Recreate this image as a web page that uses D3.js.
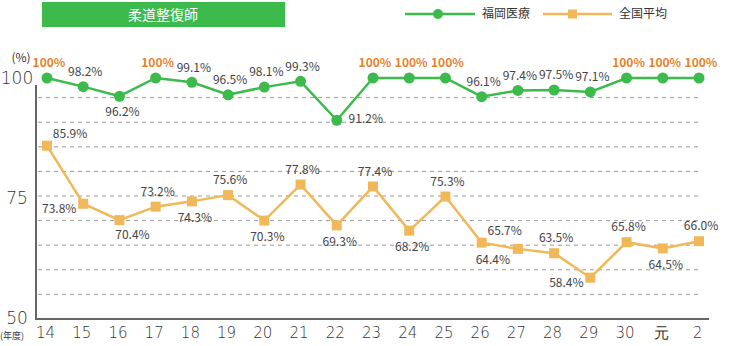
<!DOCTYPE html>
<html lang="ja">
  <head>
    <meta charset="utf-8">
    <title>柔道整復師</title>
    <style>
      body { margin: 0; background: #fff; }
      svg { display: block; font-family: "Noto Sans CJK JP", "Noto Sans", sans-serif; }
    </style>
    <script src="https://d3js.org/d3.v7.min.js"></script>
  </head>
  <body>
    <div class="chart"></div>
    <script>

    // data
    const years = ["14","15","16","17","18","19","20","21","22","23","24","25","26","27","28","29","30","元","2"];
    const fukuoka = [100,98.2,96.2,100,99.1,96.5,98.1,99.3,91.2,100,100,100,96.1,97.4,97.5,97.1,100,100,100];
    const national = [85.9,73.8,70.4,73.2,74.3,75.6,70.3,77.8,69.3,77.4,68.2,75.3,65.7,64.4,63.5,58.4,65.8,64.5,66.0];
    const yTicks = [50,75,100];
    const seriesNames = ["福岡医療","全国平均"];

    // where each value label sits relative to its marker
    const fukuokaLabelPos = ["t","t","b","t","t","t","t","t","r","t","t","t","t","t","t","t","t","t","t"];
    const nationalLabelPos = ["tr","l","br","t","b","t","b","t","b","t","b","t","tr","bl","t","l","t","b","t"];
    const offsets = {
      t: [2,-15], b: [3,16], tr: [23,-12], r: [29,-1],
      l: [-24,5], bl: [-25,11], br: [13,15]
    };

    const width = 730, height = 346;
    const green = "#3cba4c", orange = "#f0b859", hot = "#e8812a";

    const svg = d3.select(".chart")
      .append("svg")
      .attr("width", width)
      .attr("height", height);

    const x = d3.scalePoint()
      .domain(years)
      .range([47, 699]);

    const y = d3.scaleLinear()
      .domain([50,100])
      .range([318, 78]);

    // dashed grid sits on its own even spacing
    const gy = d3.scaleLinear()
      .domain([50,100])
      .range([319, 73]);

    // title box
    svg.append("rect")
      .attr("x",42).attr("y",2)
      .attr("width",243).attr("height",25)
      .attr("fill",green);
    svg.append("text")
      .attr("x",163).attr("y",15)
      .attr("dy","0.35em")
      .attr("text-anchor","middle")
      .attr("fill","white")
      .style("font-size","14px")
      .text("柔道整復師");

    // legend
    const legend = svg.append("g").attr("transform","translate(405,14)");
    legend.append("line").attr("x1",0).attr("x2",70)
      .attr("stroke",green).attr("stroke-width",2.5);
    legend.append("circle").attr("cx",33).attr("r",5).attr("fill",green);
    legend.append("line").attr("x1",138).attr("x2",207)
      .attr("stroke",orange).attr("stroke-width",2.5);
    legend.append("rect").attr("x",163).attr("y",-4.5).attr("width",9).attr("height",9).attr("fill",orange);
    legend.selectAll("text")
      .data(seriesNames)
      .join("text")
      .attr("x",(d,i)=> i ? 214 : 77)
      .attr("dy","0.35em")
      .attr("fill","#333")
      .style("font-size","12px")
      .text(d=>d);

    // grid
    svg.append("g")
      .selectAll("line")
      .data(d3.range(55,100,5))
      .join("line")
      .attr("x1",38).attr("x2",699)
      .attr("y1",d=>gy(d)).attr("y2",d=>gy(d))
      .attr("stroke","#999")
      .attr("stroke-width",1)
      .attr("stroke-dasharray","4,4");

    // axes lines
    svg.append("path")
      .attr("d",`M36,85V${gy(50)}H709`)
      .attr("fill","none")
      .attr("stroke","#666")
      .attr("stroke-width",2);

    // y labels
    const yAxis = svg.append("g")
      .attr("transform","translate(17,0)")
      .call(d3.axisLeft(y).tickValues(yTicks).tickSize(0).tickPadding(0));
    yAxis.select(".domain").remove();
    yAxis.selectAll("text")
      .attr("text-anchor","middle")
      .attr("fill","#333")
      .style("font-family","'DejaVu Sans', sans-serif")
      .style("font-weight","200")
      .style("font-size","17px");

    svg.append("text")
      .attr("x",21).attr("y",58)
      .attr("dy","0.35em")
      .attr("text-anchor","middle")
      .attr("fill","#333")
      .style("font-size","12px")
      .text("(%)");

    // x labels
    const xAxis = svg.append("g")
      .attr("transform","translate(-2,327)")
      .call(d3.axisBottom(x).tickSize(0).tickPadding(0));
    xAxis.select(".domain").remove();
    xAxis.selectAll("text")
      .attr("dy","0.71em")
      .attr("fill","#333")
      .style("font-family","'DejaVu Sans', sans-serif")
      .style("font-weight","200")
      .style("font-size","15px");

    svg.append("text")
      .attr("x",12).attr("y",336)
      .attr("dy","0.35em")
      .attr("text-anchor","middle")
      .attr("fill","#333")
      .style("font-size","9px")
      .text("(年度)");

    // national average
    const nat = years.map((d,i)=>({year:d, v:national[i], pos:nationalLabelPos[i]}));
    svg.append("path")
      .datum(nat)
      .attr("d",d3.line().x(d=>x(d.year)).y(d=>y(d.v)))
      .attr("fill","none")
      .attr("stroke",orange)
      .attr("stroke-width",2.5);
    svg.append("g")
      .selectAll("rect")
      .data(nat)
      .join("rect")
      .attr("x",d=>x(d.year)-5)
      .attr("y",d=>y(d.v)-5)
      .attr("width",10).attr("height",10)
      .attr("fill",orange);

    // fukuoka
    const fk = years.map((d,i)=>({year:d, v:fukuoka[i], pos:fukuokaLabelPos[i]}));
    svg.append("path")
      .datum(fk)
      .attr("d",d3.line().x(d=>x(d.year)).y(d=>y(d.v)))
      .attr("fill","none")
      .attr("stroke",green)
      .attr("stroke-width",2.5);
    svg.append("g")
      .selectAll("circle")
      .data(fk)
      .join("circle")
      .attr("cx",d=>x(d.year))
      .attr("cy",d=>y(d.v))
      .attr("r",5.5)
      .attr("fill",green);

    // value labels
    const label = (data, fmt) => svg.append("g")
      .selectAll("text")
      .data(data)
      .join("text")
      .attr("x",d=>x(d.year)+offsets[d.pos][0])
      .attr("y",d=>y(d.v)+offsets[d.pos][1])
      .attr("dy","0.35em")
      .attr("text-anchor","middle")
      .attr("fill",d=>d.v===100 ? hot : "#444")
      .style("font-weight",d=>d.v===100 ? "bold" : "normal")
      .style("font-size","12px")
      .text(fmt);

    label(fk, d=>d.v===100 ? "100%" : d.v.toFixed(1)+"%");
    label(nat, d=>d.v.toFixed(1)+"%");

    </script>
  </body>
</html>
